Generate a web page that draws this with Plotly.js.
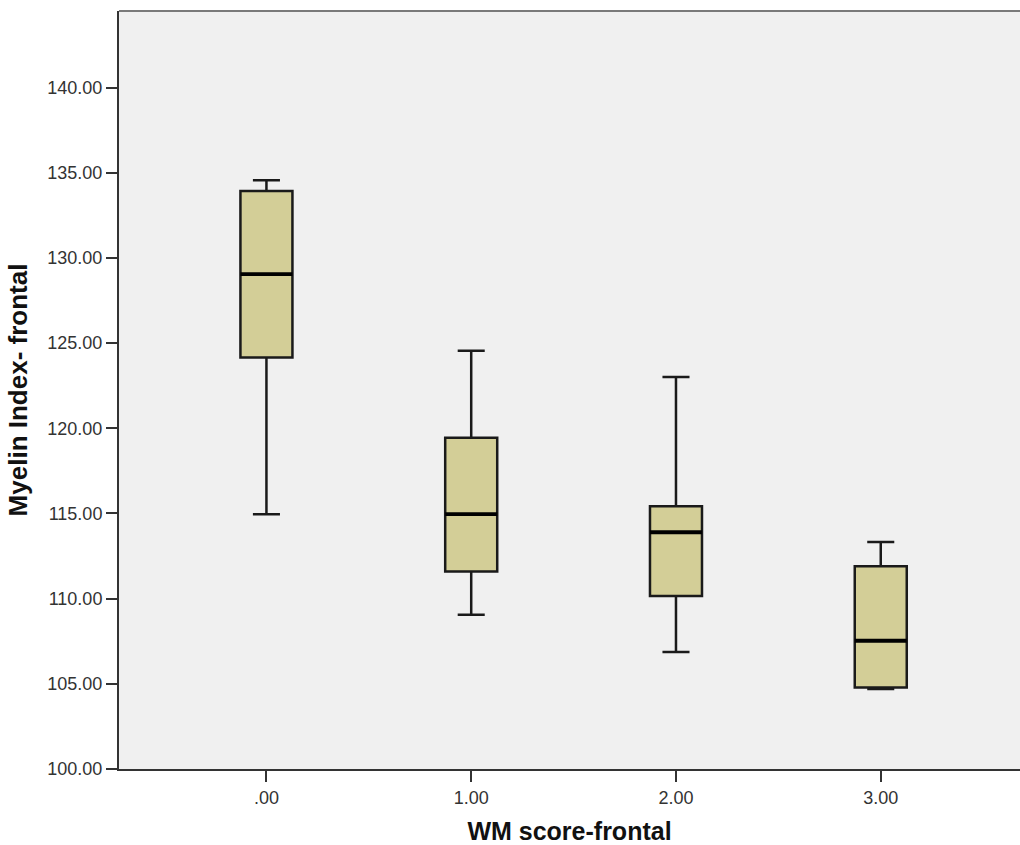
<!DOCTYPE html>
<html>
<head>
<meta charset="utf-8">
<script src="https://cdn.plot.ly/plotly-3.0.1.min.js"></script>
<style>html,body{margin:0;padding:0;background:#fff;}#chart{width:1020px;height:845px;}</style>
</head>
<body>
<div id="chart"></div>
<script>
// Data
const groups = [0, 1, 2, 3];
const groupLabels = ['.00', '1.00', '2.00', '3.00'];
const lowerWhisker = [114.96, 109.05, 106.87, 104.70];
const q1Values = [124.16, 111.60, 110.15, 104.79];
const medianValues = [129.05, 114.96, 113.90, 107.53];
const q3Values = [133.94, 119.44, 115.43, 111.91];
const upperWhisker = [134.57, 124.55, 123.02, 113.32];
const yTickVals = [100, 105, 110, 115, 120, 125, 130, 135, 140];
const yTickText = ['100.00', '105.00', '110.00', '115.00', '120.00', '125.00', '130.00', '135.00', '140.00'];

const FONT = 'Liberation Sans, Arial, sans-serif';

const boxTrace = {
  type: 'box',
  x: groups,
  q1: q1Values,
  median: medianValues,
  q3: q3Values,
  lowerfence: lowerWhisker,
  upperfence: upperWhisker,
  width: 0.254,
  whiskerwidth: 0.52,
  fillcolor: '#D3CE97',
  line: {color: '#1a1a1a', width: 2.5},
  boxpoints: false,
  hoverinfo: 'skip',
  showlegend: false
};

const medianTrace = {
  type: 'box',
  x: groups,
  q1: medianValues,
  median: medianValues,
  q3: medianValues,
  lowerfence: medianValues,
  upperfence: medianValues,
  width: 0.254,
  whiskerwidth: 0,
  fillcolor: 'rgba(0,0,0,0)',
  line: {color: '#000000', width: 3.8},
  boxpoints: false,
  hoverinfo: 'skip',
  showlegend: false
};

const layout = {
  width: 1020,
  height: 845,
  margin: {l: 119, r: 0, t: 11, b: 76},
  paper_bgcolor: '#ffffff',
  plot_bgcolor: '#F0F0F0',
  boxmode: 'overlay',
  showlegend: false,
  font: {family: FONT, color: '#333333'},
  xaxis: {
    range: [-0.72, 3.68],
    tickvals: groups,
    ticktext: groupLabels,
    ticks: 'outside',
    ticklen: 11,
    tickwidth: 2,
    tickcolor: '#333333',
    tickfont: {size: 18, color: '#333333', family: FONT},
    showgrid: false,
    zeroline: false,
    showline: true,
    linecolor: '#333333',
    linewidth: 2,
    title: {text: 'WM score-frontal', font: {size: 25, color: '#111111', family: FONT, weight: 'bold'}, standoff: 16}
  },
  yaxis: {
    range: [100, 144.5],
    tickvals: yTickVals,
    ticktext: yTickText,
    ticks: 'outside',
    ticklen: 11,
    tickwidth: 2,
    tickcolor: '#333333',
    tickfont: {size: 18, color: '#333333', family: FONT},
    showgrid: false,
    zeroline: false,
    showline: true,
    linecolor: '#333333',
    linewidth: 2,
    title: {text: 'Myelin Index- frontal', font: {size: 26, color: '#111111', family: FONT, weight: 'bold'}, standoff: 12}
  },
  shapes: [
    {type: 'line', xref: 'paper', yref: 'paper', x0: 0, x1: 1, y0: 1, y1: 1, line: {color: '#7a7a7a', width: 2}}
  ]
};

Plotly.newPlot('chart', [boxTrace, medianTrace], layout, {displayModeBar: false, staticPlot: true});
</script>
</body>
</html>
